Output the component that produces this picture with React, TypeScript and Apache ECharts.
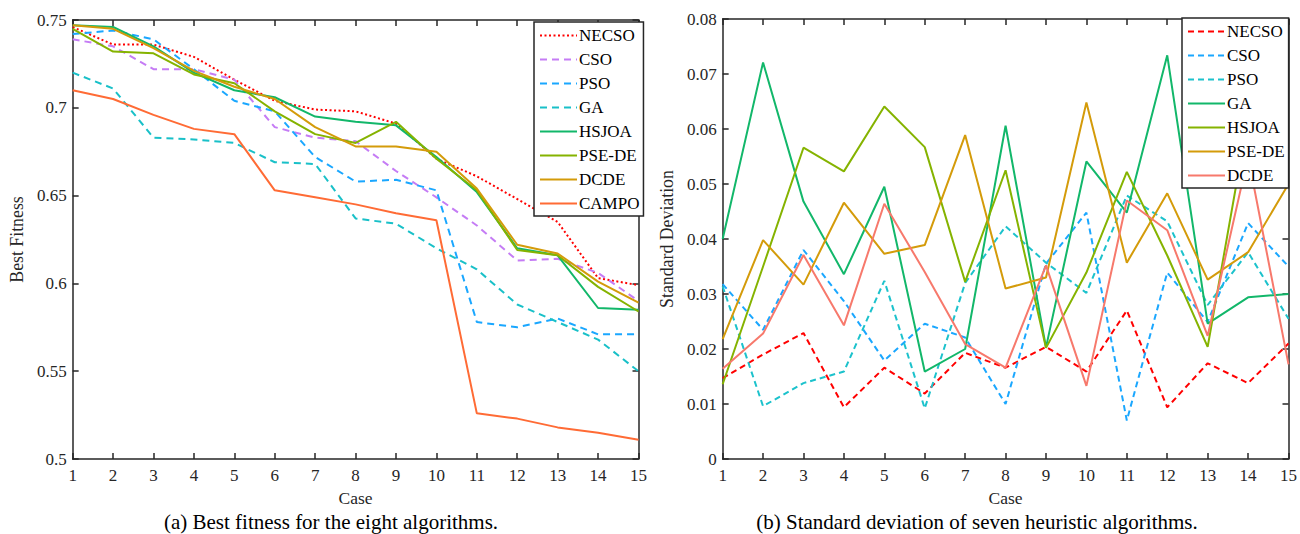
import React, { useEffect, useRef } from 'react';
import * as echarts from 'echarts';

// ---------- data ----------
const cases = ['1', '2', '3', '4', '5', '6', '7', '8', '9', '10', '11', '12', '13', '14', '15'];

const fitNames = ['NECSO', 'CSO', 'PSO', 'GA', 'HSJOA', 'PSE-DE', 'DCDE', 'CAMPO'];
const fitNECSO = [0.746, 0.736, 0.736, 0.729, 0.716, 0.704, 0.699, 0.698, 0.691, 0.671, 0.661, 0.648, 0.635, 0.603, 0.599];
const fitCSO = [0.739, 0.735, 0.722, 0.722, 0.716, 0.689, 0.683, 0.681, 0.664, 0.649, 0.633, 0.613, 0.614, 0.606, 0.590];
const fitPSO = [0.742, 0.744, 0.739, 0.722, 0.704, 0.698, 0.672, 0.658, 0.659, 0.653, 0.578, 0.575, 0.580, 0.571, 0.571];
const fitGA = [0.720, 0.711, 0.683, 0.682, 0.680, 0.669, 0.668, 0.637, 0.634, 0.620, 0.608, 0.588, 0.578, 0.568, 0.550];
const fitHSJOA = [0.747, 0.746, 0.735, 0.720, 0.710, 0.706, 0.695, 0.692, 0.690, 0.672, 0.652, 0.620, 0.616, 0.586, 0.585];
const fitPSEDE = [0.745, 0.732, 0.731, 0.719, 0.714, 0.698, 0.685, 0.680, 0.692, 0.671, 0.653, 0.619, 0.616, 0.598, 0.584];
const fitDCDE = [0.747, 0.745, 0.734, 0.721, 0.712, 0.705, 0.689, 0.678, 0.678, 0.675, 0.654, 0.622, 0.617, 0.601, 0.589];
const fitCAMPO = [0.710, 0.705, 0.696, 0.688, 0.685, 0.653, 0.649, 0.645, 0.640, 0.636, 0.526, 0.523, 0.518, 0.515, 0.511];

const sdNames = ['NECSO', 'CSO', 'PSO', 'GA', 'HSJOA', 'PSE-DE', 'DCDE'];
const sdNECSO = [0.0147, 0.0190, 0.0229, 0.0094, 0.0166, 0.0119, 0.0193, 0.0166, 0.0204, 0.0159, 0.0270, 0.0094, 0.0174, 0.0138, 0.0210];
const sdCSO = [0.0318, 0.0235, 0.0380, 0.0287, 0.0179, 0.0246, 0.0221, 0.0100, 0.0355, 0.0448, 0.0070, 0.0339, 0.0249, 0.0429, 0.0350];
const sdPSO = [0.0314, 0.0096, 0.0138, 0.0159, 0.0324, 0.0092, 0.0320, 0.0423, 0.0357, 0.0302, 0.0479, 0.0432, 0.0280, 0.0376, 0.0255];
const sdGA = [0.0400, 0.0721, 0.0468, 0.0336, 0.0495, 0.0159, 0.0200, 0.0606, 0.0203, 0.0541, 0.0448, 0.0734, 0.0246, 0.0294, 0.0300];
const sdHSJOA = [0.0136, 0.0350, 0.0566, 0.0523, 0.0641, 0.0567, 0.0322, 0.0525, 0.0202, 0.0339, 0.0522, 0.0370, 0.0204, 0.0620, 0.0580];
const sdPSEDE = [0.0218, 0.0398, 0.0317, 0.0466, 0.0373, 0.0389, 0.0589, 0.0310, 0.0330, 0.0648, 0.0357, 0.0483, 0.0326, 0.0376, 0.0500];
const sdDCDE = [0.0164, 0.0228, 0.0371, 0.0243, 0.0464, 0.0340, 0.0209, 0.0166, 0.0352, 0.0133, 0.0470, 0.0416, 0.0224, 0.0550, 0.0172];

const captionA = '(a) Best fitness for the eight algorithms.';
const captionB = '(b) Standard deviation of seven heuristic algorithms.';

// ---------- styles ----------
const FONT = 'Liberation Serif';
const AX = '#262626';

type SeriesCfg = { name: string; data: number[]; color: string; dash: number[] | 'solid' };

function lineSeries(c: SeriesCfg) {
  return {
    type: 'line',
    name: c.name,
    data: c.data,
    symbol: 'none',
    xAxisIndex: 0,
    yAxisIndex: 0,
    lineStyle: { color: c.color, width: 2, type: c.dash },
    itemStyle: { color: c.color },
    emphasis: { disabled: true },
  };
}

function buildOption(opts: {
  grid: { left: number; right: number; top: number; bottom: number };
  yMin: number;
  yMax: number;
  yInterval: number;
  yName: string;
  legendLeft: number;
  legendTop: number;
  names: string[];
  series: SeriesCfg[];
  caption: string;
  captionX: number;
}) {
  const lineStyle = { color: AX, width: 1.5 };
  const xBase = {
    type: 'category',
    data: cases,
    boundaryGap: false,
    axisLine: { show: true, onZero: false, lineStyle },
    axisTick: { show: true, inside: true, length: 6, alignWithLabel: true, interval: 0, lineStyle },
    splitLine: { show: false },
  };
  const yBase = {
    type: 'value',
    min: opts.yMin,
    max: opts.yMax,
    interval: opts.yInterval,
    axisLine: { show: true, onZero: false, lineStyle },
    axisTick: { show: true, inside: true, length: 6, lineStyle },
    splitLine: { show: false },
  };
  return {
    animation: false,
    backgroundColor: '#ffffff',
    grid: { ...opts.grid, containLabel: false },
    legend: {
      orient: 'vertical',
      left: opts.legendLeft,
      top: opts.legendTop,
      itemWidth: 37,
      itemHeight: 14,
      itemGap: 7,
      padding: [5, 4, 4, 5],
      backgroundColor: '#ffffff',
      borderColor: AX,
      borderWidth: 1.5,
      borderRadius: 0,
      selectedMode: false,
      itemStyle: { opacity: 0 },
      textStyle: { fontFamily: FONT, fontSize: 17, color: '#000', padding: [0, 0, 0, -3] },
      data: opts.names,
    },
    xAxis: [
      {
        ...xBase,
        position: 'bottom',
        axisLabel: { show: true, interval: 0, color: AX, fontFamily: FONT, fontSize: 17, margin: 8 },
        name: 'Case',
        nameLocation: 'middle',
        nameGap: 30,
        nameTextStyle: { fontFamily: FONT, fontSize: 17.5, color: AX },
      },
      { ...xBase, position: 'top', axisLabel: { show: false } },
    ],
    yAxis: [
      {
        ...yBase,
        position: 'left',
        axisLabel: {
          show: true,
          color: AX,
          fontFamily: FONT,
          fontSize: 17,
          margin: 6,
          formatter: (v: number) => String(+v.toFixed(3)),
        },
        name: opts.yName,
        nameLocation: 'middle',
        nameGap: 41,
        nameTextStyle: { fontFamily: FONT, fontSize: 17.8, color: AX },
      },
      { ...yBase, position: 'right', axisLabel: { show: false } },
    ],
    graphic: [
      {
        type: 'text',
        x: opts.captionX,
        y: 522,
        style: {
          text: opts.caption,
          fontFamily: FONT,
          fontSize: 21,
          fill: '#000',
          textAlign: 'center',
          textVerticalAlign: 'middle',
        },
      },
    ],
    series: opts.series.map(lineSeries),
  };
}

const leftSeries: SeriesCfg[] = [
  { name: fitNames[0], data: fitNECSO, color: '#ff0000', dash: [2, 2.5] },
  { name: fitNames[1], data: fitCSO, color: '#c57cf5', dash: [7, 5] },
  { name: fitNames[2], data: fitPSO, color: '#1aa7ff', dash: [7, 5] },
  { name: fitNames[3], data: fitGA, color: '#19c0c8', dash: [7, 5] },
  { name: fitNames[4], data: fitHSJOA, color: '#12b76a', dash: 'solid' },
  { name: fitNames[5], data: fitPSEDE, color: '#85b300', dash: 'solid' },
  { name: fitNames[6], data: fitDCDE, color: '#d49b0a', dash: 'solid' },
  { name: fitNames[7], data: fitCAMPO, color: '#ff6b35', dash: 'solid' },
];

const rightSeries: SeriesCfg[] = [
  { name: sdNames[0], data: sdNECSO, color: '#ff0000', dash: [6, 4] },
  { name: sdNames[1], data: sdCSO, color: '#1aa7ff', dash: [6, 4] },
  { name: sdNames[2], data: sdPSO, color: '#1cc2cc', dash: [6, 4] },
  { name: sdNames[3], data: sdGA, color: '#12b76a', dash: 'solid' },
  { name: sdNames[4], data: sdHSJOA, color: '#85b300', dash: 'solid' },
  { name: sdNames[5], data: sdPSEDE, color: '#d49b0a', dash: 'solid' },
  { name: sdNames[6], data: sdDCDE, color: '#f7796c', dash: 'solid' },
];

export default function App() {
  const leftRef = useRef<HTMLDivElement>(null);
  const rightRef = useRef<HTMLDivElement>(null);

  useEffect(() => {
    if (!leftRef.current || !rightRef.current) return;
    const c1 = echarts.init(leftRef.current, undefined, { renderer: 'svg' });
    const c2 = echarts.init(rightRef.current, undefined, { renderer: 'svg' });
    c1.setOption(
      buildOption({
        grid: { left: 67, right: 5, top: 20, bottom: 75 },
        yMin: 0.5,
        yMax: 0.75,
        yInterval: 0.05,
        yName: 'Best Fitness',
        legendLeft: 534,
        legendTop: 22,
        names: fitNames,
        series: leftSeries,
        caption: captionA,
        captionX: 331,
      }) as any
    );
    c2.setOption(
      buildOption({
        grid: { left: 62, right: 10, top: 19, bottom: 75 },
        yMin: 0,
        yMax: 0.08,
        yInterval: 0.01,
        yName: 'Standard Deviation',
        legendLeft: 532,
        legendTop: 18,
        names: sdNames,
        series: rightSeries,
        caption: captionB,
        captionX: 327,
      }) as any
    );
    return () => {
      c1.dispose();
      c2.dispose();
    };
  }, []);

  return (
    <div style={{ position: 'absolute', left: 0, top: 0, width: 1300, height: 534, background: '#fff' }}>
      <div ref={leftRef} style={{ position: 'absolute', left: 0, top: 0, width: 650, height: 534 }} />
      <div ref={rightRef} style={{ position: 'absolute', left: 650, top: 0, width: 650, height: 534 }} />
    </div>
  );
}
